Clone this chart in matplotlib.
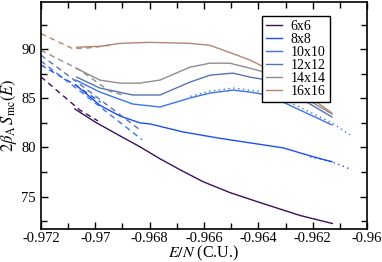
import matplotlib
matplotlib.use("Agg")
import matplotlib.pyplot as plt
from matplotlib.ticker import MultipleLocator, FuncFormatter

plt.rcParams["font.family"] = ["Liberation Serif", "DejaVu Serif"]
plt.rcParams["mathtext.fontset"] = "stix"
plt.rcParams["axes.unicode_minus"] = False

# ── Data ─────────────────────────────────────────────────────────────────────
labels = ["6x6", "8x8", "10x10", "12x12", "14x14", "16x16"]
colors = ["#3c0f5f", "#1d4ef2", "#3d73ea", "#5574b4", "#8e8e8e", "#b38672"]

# solid curves
x_6 = [-0.97075, -0.97001, -0.96909, -0.96835, -0.96762, -0.96688, -0.96603, -0.96504, -0.96393, -0.96246, -0.96128]
y_6 = [83.92, 82.60, 81.18, 80.06, 78.85, 77.73, 76.51, 75.40, 74.38, 73.07, 72.26]

x_8 = [-0.97071, -0.96983, -0.96909, -0.96835, -0.96799, -0.96677, -0.96552, -0.96431, -0.96309, -0.96210, -0.96129]
y_8 = [86.35, 84.30, 83.20, 82.50, 82.40, 81.58, 80.98, 80.47, 79.96, 79.15, 78.54]

x_10 = [-0.97071, -0.96983, -0.96862, -0.96762, -0.96652, -0.96578, -0.96493, -0.96431, -0.96365, -0.96247, -0.96129]
y_10 = [86.86, 85.64, 84.42, 84.12, 85.03, 85.54, 85.84, 85.64, 85.34, 83.81, 82.29]

x_12 = [-0.97068, -0.96983, -0.96862, -0.96762, -0.96652, -0.96578, -0.96493, -0.96431, -0.96365, -0.96247, -0.96129]
y_12 = [87.16, 86.05, 85.34, 85.34, 86.65, 87.36, 87.57, 87.16, 86.86, 85.03, 83.10]

x_14 = [-0.97071, -0.96983, -0.96909, -0.96836, -0.96762, -0.96652, -0.96578, -0.96505, -0.96431, -0.96365, -0.96247, -0.96129]
y_14 = [88.07, 86.86, 86.55, 86.55, 86.86, 88.17, 88.58, 88.58, 88.07, 87.57, 85.34, 83.40]

x_16 = [-0.97068, -0.96983, -0.96909, -0.96799, -0.96652, -0.96578, -0.96479, -0.96431, -0.96365, -0.96284, -0.96210, -0.96129]
y_16 = [90.2, 90.3, 90.6, 90.7, 90.6, 90.4, 89.4, 88.9, 88.0, 86.7, 85.1, 83.5]

# dashed low-energy extensions
xd_6 = [-0.972, -0.97056, -0.9699]
yd_6 = [87.2, 83.8, 82.7]
xd_8 = [-0.972, -0.9707, -0.9698]
yd_8 = [88.4, 86.3, 84.6]
xd_10 = [-0.972, -0.9705, -0.96828]
yd_10 = [88.8, 85.6, 80.8]
xd_12 = [-0.972, -0.9705, -0.96836]
yd_12 = [89.4, 86.3, 81.8]
xd_14 = [-0.972, -0.97057, -0.96946, -0.96891]
yd_14 = [89.9, 87.9, 85.7, 85.3]
xd_16 = [-0.972, -0.97082, -0.9702, -0.96946]
yd_16 = [91.6, 90.05, 90.15, 90.4]

# dotted high-energy extensions
xt_8 = [-0.9621, -0.96129, -0.96056]
yt_8 = [79.05, 78.54, 77.73]
xt_10 = [-0.9665, -0.96578, -0.96493, -0.96365, -0.96247, -0.96129, -0.96063]
yt_10 = [85.2, 85.75, 86.05, 85.6, 84.1, 82.5, 81.28]

xticks = [-0.972, -0.97, -0.968, -0.966, -0.964, -0.962, -0.96]
yticks = [75, 80, 85, 90]

# ── Plot ──────────────────────────────────────────────────────────────────────
fig = plt.figure(figsize=(3.82, 2.62), dpi=100)
ax = fig.add_axes([0.107, 0.126, 0.854, 0.866])

solid = [(x_6, y_6), (x_8, y_8), (x_10, y_10), (x_12, y_12), (x_14, y_14), (x_16, y_16)]
dashed = [(xd_6, yd_6), (xd_8, yd_8), (xd_10, yd_10), (xd_12, yd_12), (xd_14, yd_14), (xd_16, yd_16)]

for (xs, ys), (xd, yd), c, lab in zip(solid, dashed, colors, labels):
    ax.plot(xs, ys, color=c, lw=1.0, label=lab)
    ax.plot(xd, yd, color=c, lw=1.0, ls=(0, (4, 3)))

ax.plot(xt_8, yt_8, color=colors[1], lw=1.0, ls=(0, (1, 2.5)))
ax.plot(xt_10, yt_10, color=colors[2], lw=1.0, ls=(0, (1, 2.5)))

# ── Formatting ────────────────────────────────────────────────────────────────
ax.set_xlim(-0.972, -0.96)
ax.set_ylim(71.7, 94.8)
ax.set_xticks(xticks)
ax.set_yticks(yticks)
ax.xaxis.set_minor_locator(MultipleLocator(0.001))
ax.yaxis.set_minor_locator(MultipleLocator(2.5))
ax.xaxis.set_major_formatter(FuncFormatter(lambda v, p: "%g" % round(v, 4)))
ax.tick_params(which="both", direction="in", top=True, right=True, labelsize=10.5)
ax.tick_params(axis="x", pad=2.5)
ax.tick_params(which="major", length=5, width=1)
ax.tick_params(which="minor", length=4, width=1)
for s in ax.spines.values():
    s.set_linewidth(1.2)

ax.set_xlabel("$E/N$ (C.U.)", fontsize=11.5, labelpad=-1)
ax.set_ylabel(r"$2\beta_{\rm A}\,S_{\rm mc}(E)$", fontsize=12, labelpad=2)

leg = ax.legend(loc="upper right", bbox_to_anchor=(0.886, 0.94), fontsize=10,
                frameon=True, fancybox=False, handlelength=1.2, handletextpad=0.6,
                borderpad=0.3, labelspacing=0.0, borderaxespad=0)
leg.get_frame().set_edgecolor("black")
leg.get_frame().set_linewidth(1.0)
leg.get_frame().set_alpha(1)

fig.savefig("out.png", dpi=100)
